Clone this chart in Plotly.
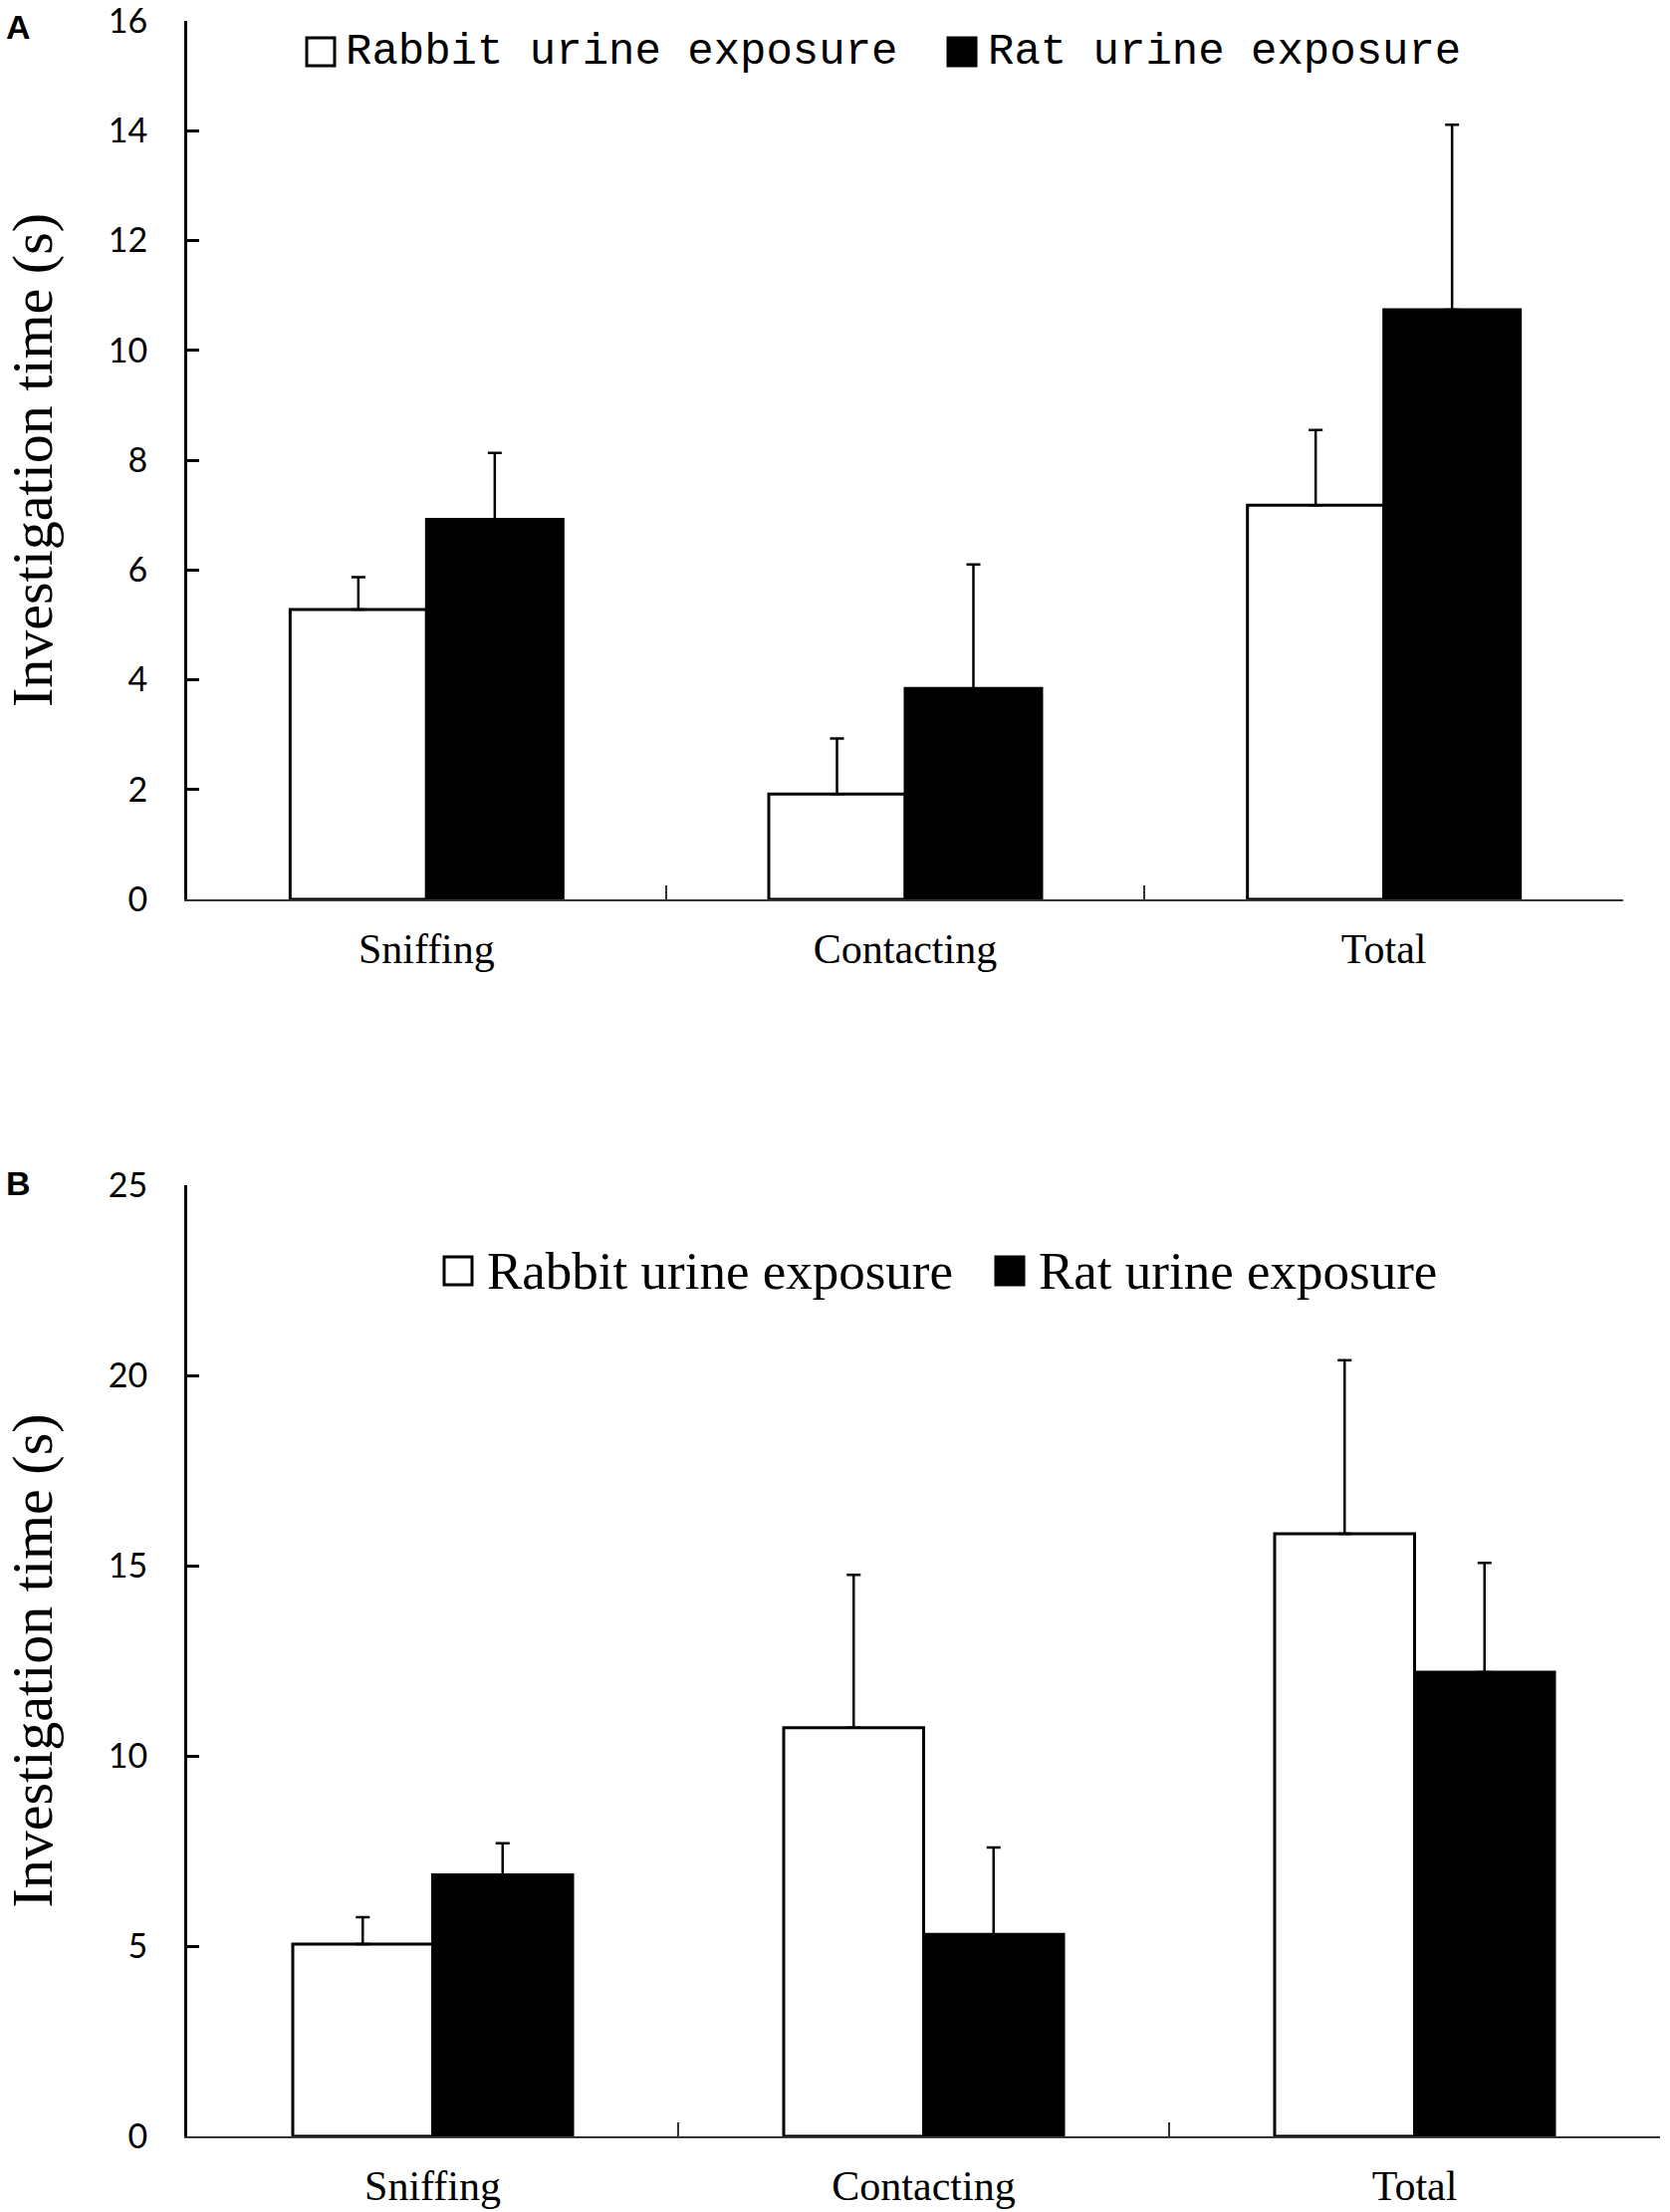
import plotly.graph_objects as go
from plotly.subplots import make_subplots

categories = ["Sniffing", "Contacting", "Total"]

# panel A
a_rabbit = [5.28, 1.92, 7.18]
a_rabbit_err = [0.59, 1.01, 1.37]
a_rat = [6.92, 3.84, 10.74]
a_rat_err = [1.21, 2.26, 3.37]

# panel B
b_rabbit = [5.05, 10.74, 15.84]
b_rabbit_err = [0.71, 4.02, 4.56]
b_rat = [6.87, 5.31, 12.20]
b_rat_err = [0.83, 2.28, 2.87]

legend_names = ["Rabbit urine exposure", "Rat urine exposure"]

W, H = 1677, 2221
SERIF = "Liberation Serif, Times New Roman, serif"
TICKFONT = "Lato, Liberation Sans Narrow, sans-serif"


def px_x(v):
    return v / W


def px_y(v):
    return 1 - v / H


def err(vals):
    return dict(type="data", symmetric=False, array=vals, arrayminus=[0] * len(vals),
                color="black", thickness=2.5, width=7)


fig = make_subplots(rows=2, cols=1)

for row, rab, rab_e, rat, rat_e in [(1, a_rabbit, a_rabbit_err, a_rat, a_rat_err),
                                    (2, b_rabbit, b_rabbit_err, b_rat, b_rat_err)]:
    fig.add_trace(go.Bar(x=categories, y=rab, name=legend_names[0], error_y=err(rab_e),
                         marker=dict(color="white", line=dict(color="black", width=3)),
                         showlegend=False), row=row, col=1)
    fig.add_trace(go.Bar(x=categories, y=rat, name=legend_names[1], error_y=err(rat_e),
                         marker=dict(color="black", line=dict(color="black", width=3)),
                         showlegend=False), row=row, col=1)

xax = dict(showline=True, linecolor="#333", linewidth=2, ticks="inside", tickson="boundaries",
           ticklen=14, tickwidth=2, tickcolor="#333", range=[-0.5, 2.5], automargin=False,
           tickfont=dict(family=SERIF, size=42, color="black"), ticklabelstandoff=12,
           showgrid=False, zeroline=False)
yax = dict(showline=True, linecolor="black", linewidth=3, ticks="inside", ticklen=12,
           tickwidth=3, tickcolor="black", tickfont=dict(family=TICKFONT, size=34, color="black"),
           ticklabelstandoff=30, ticklabeloverflow="allow", showgrid=False, zeroline=False,
           automargin=False,
           title=dict(text="Investigation time (s)", font=dict(family=SERIF, size=58, color="black"),
                      standoff=56))

fig.update_layout(
    width=W, height=H, margin=dict(l=0, r=0, t=0, b=0),
    paper_bgcolor="white", plot_bgcolor="white",
    barmode="group", bargap=0.43, bargroupgap=0,
    xaxis=dict(xax, domain=[px_x(188), px_x(1630)]),
    yaxis=dict(yax, domain=[px_y(903), px_y(21)], range=[0, 16], dtick=2),
    xaxis2=dict(xax, domain=[px_x(188), px_x(1667)]),
    yaxis2=dict(yax, domain=[px_y(2145), px_y(1190)], range=[0, 25], dtick=5),
)

# panel letters
for txt, y in [("A", 27), ("B", 1188)]:
    fig.add_annotation(text=txt, xref="paper", yref="paper", x=px_x(4), y=px_y(y),
                       xanchor="left", yanchor="middle", showarrow=False,
                       font=dict(family="Liberation Sans, Arial", size=34, color="black",
                                 weight="bold"))

# legends drawn as key boxes plus text
legend_specs = [
    # (y centre px, [(box x0, text x)], font)
    (52, [(308, 345), (952, 990)], dict(family="Liberation Mono, Courier New, monospace", size=44, color="black")),
    (1276, [(446, 487), (1000, 1041)], dict(family=SERIF, size=53, color="black")),
]
for yc, items, font in legend_specs:
    for (bx, tx), name, fill in zip(items, legend_names, ["white", "black"]):
        fig.add_shape(type="rect", xref="paper", yref="paper",
                      x0=px_x(bx), x1=px_x(bx + 28), y0=px_y(yc + 14), y1=px_y(yc - 14),
                      fillcolor=fill, line=dict(color="black", width=3))
        fig.add_annotation(text=name, xref="paper", yref="paper", x=px_x(tx), y=px_y(yc),
                           xanchor="left", yanchor="middle", showarrow=False, font=font)

fig.write_html("out.html", config={"displayModeBar": False},
               post_script="document.body.style.margin = '0px';")
